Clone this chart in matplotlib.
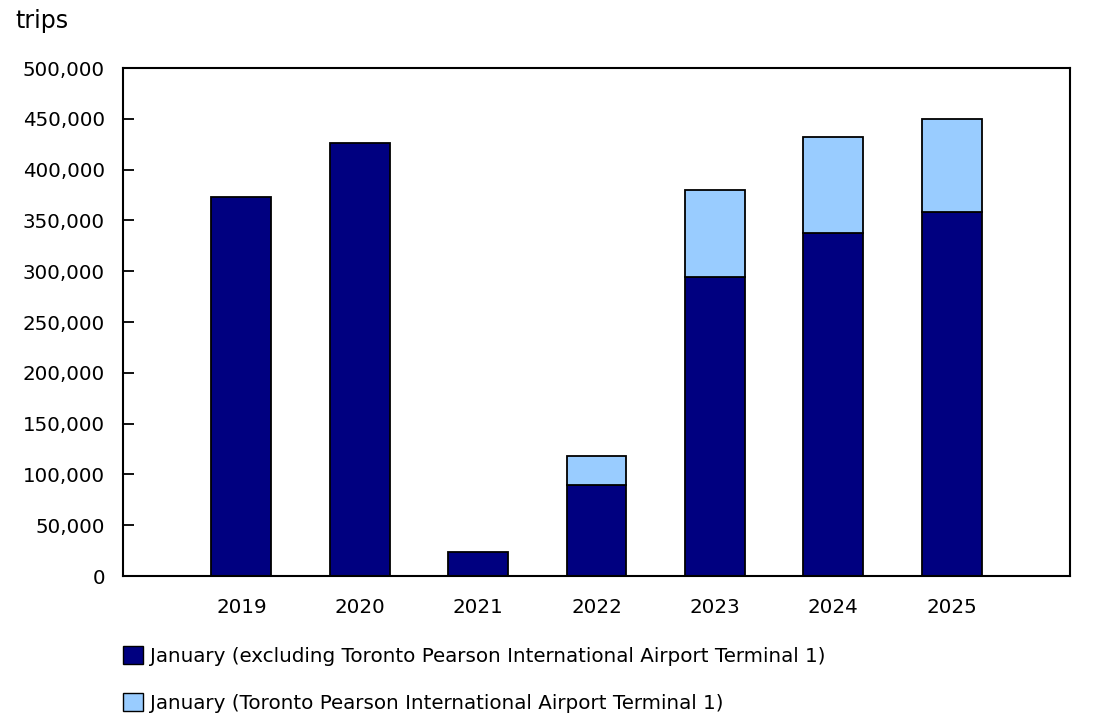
import matplotlib
matplotlib.use("Agg")
import matplotlib.pyplot as plt
from matplotlib.patches import Patch
from matplotlib.ticker import FuncFormatter, MultipleLocator

years = ["2019", "2020", "2021", "2022", "2023", "2024", "2025"]
excl_t1 = [372700, 425900, 23300, 89600, 294000, 337300, 357900]
t1 = [0, 0, 0, 28800, 85600, 94500, 92200]

label_excl = "January (excluding Toronto Pearson International Airport Terminal 1)"
label_t1 = "January (Toronto Pearson International Airport Terminal 1)"

dark = "#000080"
light = "#99CCFF"

plt.rcParams['font.family'] = ['DejaVu Sans']
fs = 14.3

fig = plt.figure(figsize=(11.1, 7.23), dpi=100)
ax = fig.add_axes([123/1110, 1 - 576/723, (1070-123)/1110, (576-68)/723])

x = list(range(1, len(years) + 1))
w = 0.506
ax.bar(x, excl_t1, width=w, color=dark, edgecolor="black", linewidth=1.3, zorder=2)
t1_x = [xi for xi, v in zip(x, t1) if v > 0]
t1_v = [v for v in t1 if v > 0]
t1_b = [b for b, v in zip(excl_t1, t1) if v > 0]
ax.bar(t1_x, t1_v, bottom=t1_b, width=w, color=light, edgecolor="black", linewidth=1.3, zorder=2)

ax.set_xlim(0, 8)
ax.set_ylim(0, 500000)
ax.yaxis.set_major_locator(MultipleLocator(50000))
ax.yaxis.set_major_formatter(FuncFormatter(lambda v, p: f"{int(v):,}"))
ax.set_xticks(x)
ax.set_xticklabels(years)
ax.tick_params(axis='x', length=0, pad=16, labelsize=fs)
ax.tick_params(axis='y', direction='in', length=8, width=1.3, pad=13, labelsize=fs)
for s in ax.spines.values():
    s.set_linewidth(1.5)
    s.set_color("black")

fig.text(15/1110, 1 - 21/723, "trips", fontsize=17, ha='left', va='center')

handles = [Patch(facecolor=dark, edgecolor="black", linewidth=1.0, label=label_excl),
           Patch(facecolor=light, edgecolor="black", linewidth=1.0, label=label_t1)]
fig.legend(handles=handles, loc='upper left', bbox_to_anchor=(123/1110, 1 - 646/723),
           frameon=False, fontsize=fs, handlelength=1.0, handleheight=1.0,
           handletextpad=0.35, labelspacing=1.38, borderaxespad=0, borderpad=0)

fig.savefig("out.png", dpi=100)
